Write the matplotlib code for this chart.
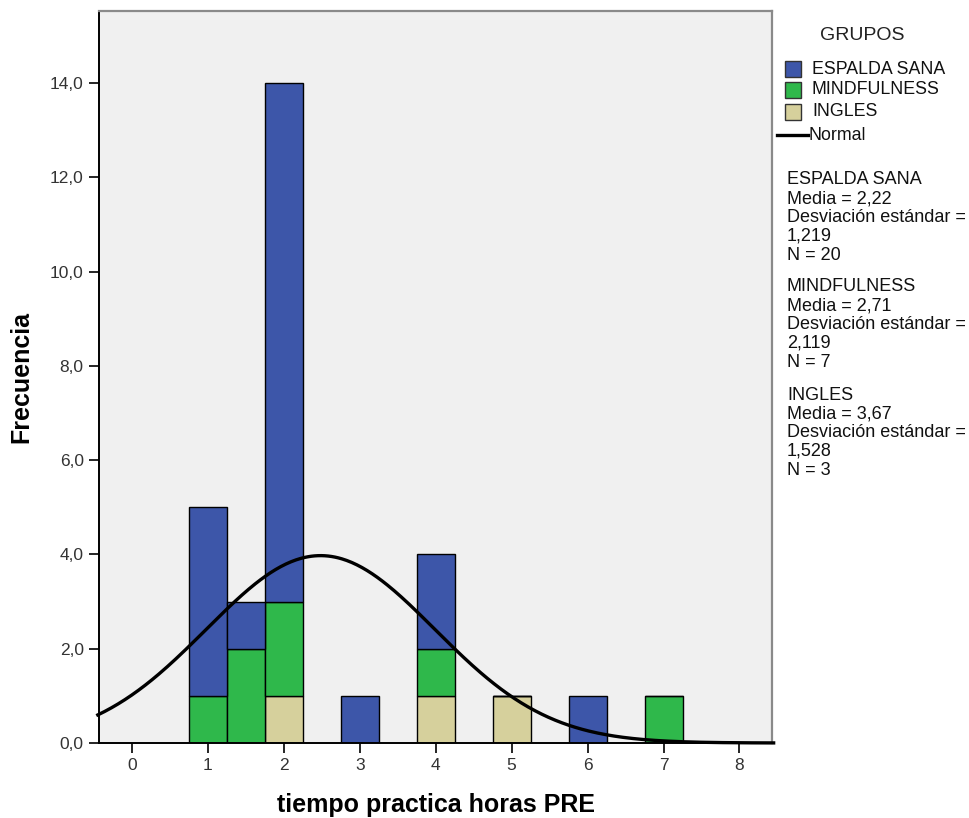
import numpy as np
import matplotlib.pyplot as plt
from matplotlib.patches import Rectangle
from matplotlib.lines import Line2D

plt.rcParams['font.family'] = ['Liberation Sans', 'DejaVu Sans']

# Datos del histograma apilado (ancho de intervalo 0.5)
bin_centers = [1, 1.5, 2, 3, 4, 5, 6, 7]
espalda_sana = [4, 1, 11, 1, 2, 0, 1, 0]
mindfulness = [1, 2, 2, 0, 1, 0, 0, 1]
ingles = [0, 0, 1, 0, 1, 1, 0, 0]
bin_width = 0.5

groups = ["ESPALDA SANA", "MINDFULNESS", "INGLES"]
colors = {"ESPALDA SANA": "#3d56a9", "MINDFULNESS": "#2fb84b", "INGLES": "#d6d09c"}
stats_lines = [
    ["ESPALDA SANA", "Media = 2,22", "Desviación estándar =", "1,219", "N = 20"],
    ["MINDFULNESS", "Media = 2,71", "Desviación estándar =", "2,119", "N = 7"],
    ["INGLES", "Media = 3,67", "Desviación estándar =", "1,528", "N = 3"],
]

x = np.array(bin_centers)
e = np.array(espalda_sana)
m = np.array(mindfulness)
g = np.array(ingles)

fig = plt.figure(figsize=(9.7, 8.18), dpi=100)
ax = fig.add_axes([0.102, 0.0917, 0.694, 0.895])
ax.set_facecolor("#f0f0f0")

ax.bar(x, g, width=bin_width, color=colors["INGLES"], edgecolor="black", linewidth=1)
ax.bar(x, m, width=bin_width, bottom=g, color=colors["MINDFULNESS"], edgecolor="black", linewidth=1)
ax.bar(x, e, width=bin_width, bottom=g + m, color=colors["ESPALDA SANA"], edgecolor="black", linewidth=1)

# Curva normal ajustada a todos los datos
counts = e + m + g
n = counts.sum()
mu = (x * counts).sum() / n
sd = np.sqrt(((x - mu) ** 2 * counts).sum() / (n - 1))
xs = np.linspace(-0.45, 8.45, 400)
ys = n * bin_width * np.exp(-0.5 * ((xs - mu) / sd) ** 2) / (sd * np.sqrt(2 * np.pi))
ax.plot(xs, ys, color="black", linewidth=2.4, zorder=5, clip_on=False)

ax.set_xlim(-0.435, 8.43)
ax.set_ylim(0, 15.53)
ax.set_xticks(range(0, 9))
ax.set_yticks(range(0, 15, 2))
ax.set_yticklabels([f"{v:.1f}".replace(".", ",") for v in range(0, 15, 2)])
ax.tick_params(axis="both", direction="out", length=7, width=1.2, labelsize=12.5,
               labelcolor="#333333", pad=4)

for side in ["left", "bottom"]:
    ax.spines[side].set_color("black")
    ax.spines[side].set_linewidth(1.4)
for side in ["top", "right"]:
    ax.spines[side].set_color("#8a8a8a")
    ax.spines[side].set_linewidth(1.6)

ax.set_xlabel("tiempo practica horas PRE", fontsize=18, fontweight="bold", labelpad=14)
ax.set_ylabel("Frecuencia", fontsize=18, fontweight="bold", labelpad=12)

# Leyenda manual
W, H = 970.0, 818.0
def fx(px):
    return px / W
def fy(py):
    return 1 - py / H

fig.text(fx(862), fy(35), "GRUPOS", fontsize=14, ha="center", va="center", color="#222222")
rows_y = [69, 90, 112]
for name, yy in zip(groups, rows_y):
    fig.add_artist(Rectangle((fx(785), fy(yy + 8)), 16 / W, 16 / H, transform=fig.transFigure,
                             facecolor=colors[name], edgecolor="#333333", linewidth=1))
    fig.text(fx(812), fy(yy), name, fontsize=12.8, ha="left", va="center", color="#111111")
fig.add_artist(Line2D([fx(777), fx(808)], [fy(135), fy(135)], transform=fig.transFigure,
                      color="black", linewidth=2.4))
fig.text(fx(809), fy(135), "Normal", fontsize=12.8, ha="left", va="center", color="#111111")

group_top = [180, 287, 395]
for lines, y0 in zip(stats_lines, group_top):
    for i, line in enumerate(lines):
        fig.text(fx(787), fy(y0 + i * 18.8), line, fontsize=13, ha="left", va="center",
                 color="#111111")

fig.savefig("out.png", dpi=100, facecolor="white")
